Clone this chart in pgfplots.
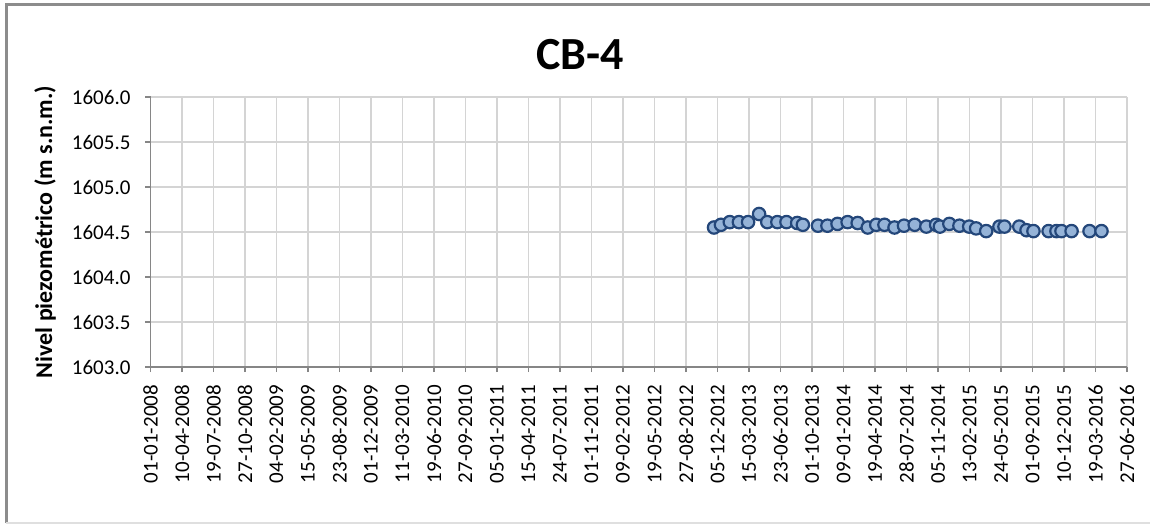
\documentclass[border=0pt]{standalone}
\usepackage{fontspec}
\setmainfont{Carlito}
\usepackage{pgfplots}
\pgfplotsset{compat=1.18}

\definecolor{markfill}{HTML}{95B3D7}
\definecolor{markedge}{HTML}{24477A}
\definecolor{gridc}{HTML}{D4D4D4}
\definecolor{axisc}{HTML}{868686}

\begin{document}
\begin{tikzpicture}
\useasboundingbox (0,0) rectangle (575pt,262.5pt);
% chart frame
\draw[color=gray!90, line width=1.5pt] (3pt,1pt) -- (3pt,260pt) -- (580pt,260pt);
\draw[color=gray!25, line width=0.8pt] (3pt,1pt) -- (580pt,1pt);
\node[font=\fontsize{23}{26}\selectfont\bfseries] at (290pt,235pt) {CB-4};
\begin{axis}[
    at={(75.25pt,79pt)}, anchor=origin,
    scale only axis,
    width=488.25pt, height=135pt,
    xmin=0, xmax=3100,
    ymin=1603, ymax=1606,
    xtick={0,100,...,3100},
    xticklabels={01-01-2008,10-04-2008,19-07-2008,27-10-2008,04-02-2009,15-05-2009,23-08-2009,01-12-2009,11-03-2010,19-06-2010,27-09-2010,05-01-2011,15-04-2011,24-07-2011,01-11-2011,09-02-2012,19-05-2012,27-08-2012,05-12-2012,15-03-2013,23-06-2013,01-10-2013,09-01-2014,19-04-2014,28-07-2014,05-11-2014,13-02-2015,24-05-2015,01-09-2015,10-12-2015,19-03-2016,27-06-2016},
    ytick={1603,1603.5,...,1606},
    /pgf/number format/assume math mode=true,
    tick label style={font=\fontsize{10.5}{12}\selectfont, text=black},
    xticklabel style={rotate=90, anchor=east, xshift=-3pt},
    yticklabel style={xshift=-4pt, /pgf/number format/.cd, fixed, fixed zerofill, precision=1, 1000 sep={}},
    grid=major,
    major grid style={color=gridc, line width=0.6pt},
    axis x line*=bottom, axis y line*=left,
    axis line style={color=axisc, line width=0.6pt, -},
    tick align=outside,
    major tick length=2.5pt,
    tick style={color=axisc, line width=0.6pt},
    ylabel={\bfseries Nivel piezométrico (m s.n.m.)},
    ylabel style={font=\fontsize{12}{14}\selectfont, at={(axis description cs:0,0.5)}, anchor=center, yshift=52.75pt},
    clip=false,
]
\addplot[only marks, mark=*, mark size=3.1pt,
    mark options={fill=markfill, draw=markedge, line width=1.1pt}]
coordinates {
(1789,1604.55) (1811,1604.58) (1839,1604.61) (1868,1604.61) (1897,1604.61)
(1932,1604.70) (1958,1604.61) (1990,1604.61) (2019,1604.61) (2053,1604.60)
(2071,1604.58) (2119,1604.57) (2149,1604.57) (2181,1604.59) (2213,1604.61)
(2245,1604.60) (2277,1604.55) (2304,1604.58) (2330,1604.58) (2362,1604.55)
(2392,1604.57) (2426,1604.58) (2463,1604.56) (2494,1604.58) (2506,1604.56)
(2536,1604.59) (2568,1604.57) (2599,1604.56) (2621,1604.54) (2653,1604.51)
(2695,1604.56) (2711,1604.56) (2758,1604.56) (2781,1604.52) (2803,1604.51)
(2851,1604.51) (2876,1604.51) (2892,1604.51) (2924,1604.51) (2981,1604.51)
(3019,1604.51)
};
\end{axis}
\end{tikzpicture}
\end{document}
